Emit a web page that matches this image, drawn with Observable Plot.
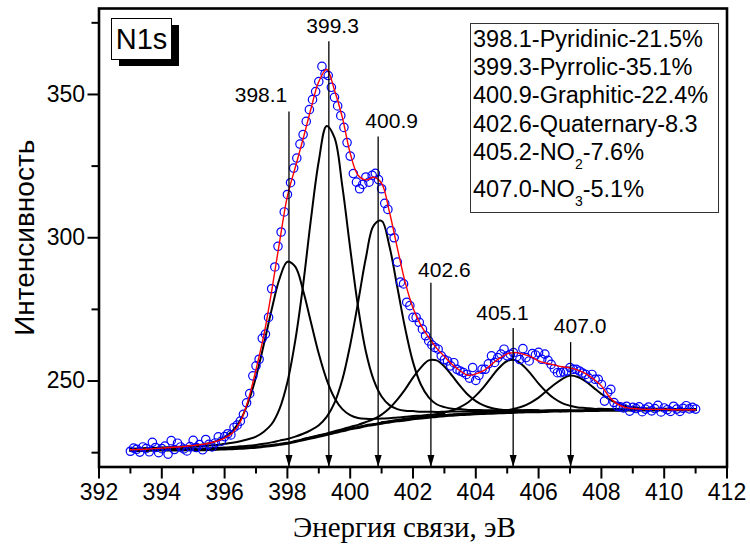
<!DOCTYPE html>
<html><head><meta charset="utf-8">
<script src="https://cdn.jsdelivr.net/npm/d3@7"></script>
<script src="https://cdn.jsdelivr.net/npm/@observablehq/plot@0.6"></script>
<style>
html,body{margin:0;padding:0;background:#fff;}
#chart{width:750px;height:549px;}
</style></head><body><div id="chart"></div>
<script>
// Common energy grid for fitted curves (eV)
const gridEnergy = [
  393, 393.25, 393.5, 393.75, 394, 394.25, 394.5, 394.75,
  395, 395.25, 395.5, 395.75, 396, 396.25, 396.5, 396.75,
  397, 397.25, 397.5, 397.75, 398, 398.25, 398.5, 398.75,
  399, 399.25, 399.5, 399.75, 400, 400.25, 400.5, 400.75,
  401, 401.25, 401.5, 401.75, 402, 402.25, 402.5, 402.75,
  403, 403.25, 403.5, 403.75, 404, 404.25, 404.5, 404.75,
  405, 405.25, 405.5, 405.75, 406, 406.25, 406.5, 406.75,
  407, 407.25, 407.5, 407.75, 408, 408.25, 408.5, 408.75,
  409, 409.25, 409.5, 409.75, 410, 410.25, 410.5, 410.75, 411
];
const background = [
  225.8, 225.8, 225.8, 225.9, 225.9, 225.9, 225.9, 226.0,
  226.0, 226.0, 226.1, 226.2, 226.3, 226.4, 226.5, 226.7,
  226.9, 227.2, 227.5, 227.9, 228.3, 228.9, 229.5, 230.1,
  230.7, 231.3, 232.0, 232.6, 233.3, 233.8, 234.4, 234.8,
  235.3, 235.7, 236.1, 236.4, 236.8, 237.1, 237.4, 237.6,
  237.9, 238.1, 238.3, 238.4, 238.6, 238.7, 238.8, 238.9,
  239.0, 239.1, 239.2, 239.3, 239.3, 239.4, 239.5, 239.5,
  239.6, 239.6, 239.7, 239.7, 239.8, 239.8, 239.8, 239.8,
  239.9, 239.9, 239.9, 239.9, 240.0, 240.0, 240.0, 240.0, 240.0
];
const peakPyridinic = [
  226.4, 226.4, 226.5, 226.6, 226.8, 226.9, 227.0, 227.2,
  227.5, 227.8, 228.3, 229.1, 230.4, 232.6, 236.3, 242.5,
  251.4, 262.8, 275.0, 285.7, 291.6, 289.9, 281.6, 270.5,
  259.5, 250.5, 244.1, 240.2, 238.1, 237.1, 236.8, 236.8,
  236.9, 237.0, 237.3, 237.5, 237.8, 237.9, 238.2, 238.3,
  238.5, null, null, null, null, null, null, null,
  null, null, null, null, null, null, null, null,
  null, null, null, null, null, null, null, null,
  null, null, null, null, null, null, null, null, null
];
const peakPyrrolic = [
  226.3, 226.4, 226.5, 226.5, 226.6, 226.7, 226.8, 226.9,
  227.1, 227.2, 227.5, 227.7, 228.1, 228.5, 229.0, 229.7,
  230.6, 232.3, 235.0, 240.3, 249.6, 264.1, 283.5, 306.5,
  326.8, 339.0, 334.9, 317.9, 296.3, 275.9, 260.2, 250.3,
  244.6, 241.6, 240.2, 239.6, 239.5, 239.3, 239.3, 239.2,
  239.3, 239.4, 239.4, 239.4, 239.5, 239.5, 239.5, 239.6,
  239.6, null, null, null, null, null, null, null,
  null, null, null, null, null, null, null, null,
  null, null, null, null, null, null, null, null, null
];
const peakGraphitic = [
  null, null, null, null, 226.2, 226.2, 226.2, 226.3,
  226.4, 226.4, 226.5, 226.7, 226.8, 227.0, 227.2, 227.4,
  227.7, 228.1, 228.6, 229.2, 229.8, 230.6, 231.6, 232.9,
  234.6, 237.5, 242.4, 250.5, 262.6, 277.4, 293.0, 304.3,
  305.9, 297.0, 282.8, 268.4, 256.6, 248.8, 244.3, 241.9,
  240.9, 240.3, 240.2, 239.9, 239.9, 239.8, 239.8, 239.8,
  239.8, 239.8, 239.8, 239.9, 239.8, null, null, null,
  null, null, null, null, null, null, null, null,
  null, null, null, null, null, null, null, null, null
];
const peakQuaternary = [
  null, null, null, null, null, null, null, null,
  null, null, null, null, null, null, null, null,
  null, null, null, null, null, null, 229.8, 230.4,
  231.1, 231.7, 232.5, 233.2, 234.0, 234.7, 235.7, 236.7,
  238.3, 240.5, 243.5, 247.1, 251.2, 254.7, 257.2, 257.2,
  255.1, 251.8, 248.3, 245.2, 243.0, 241.5, 240.6, 240.1,
  239.8, 239.8, 239.7, 239.8, 239.7, 239.8, 239.8, 239.8,
  239.8, null, null, null, null, null, null, null,
  null, null, null, null, null, null, null, null, null
];
const peakNO2 = [
  null, null, null, null, null, null, null, null,
  null, null, null, null, null, null, null, null,
  null, null, null, null, null, null, null, null,
  null, null, null, null, null, null, null, null,
  235.6, 236.0, 236.4, 236.8, 237.2, 237.6, 238.0, 238.4,
  239.0, 239.7, 240.9, 242.5, 244.9, 247.9, 251.4, 254.7,
  257.0, 257.3, 255.4, 252.5, 249.1, 246.2, 243.9, 242.3,
  241.4, 240.8, 240.6, 240.3, 240.3, 240.2, 240.2, 240.1,
  240.2, 240.1, 240.1, 240.1, 240.2, 240.2, 240.2, 240.1, 240.1
];
const peakNO3 = [
  null, null, null, null, null, null, null, null,
  null, null, null, null, null, null, null, null,
  null, null, null, null, null, null, null, null,
  null, null, null, null, null, null, null, null,
  null, null, null, null, null, null, null, null,
  238.1, 238.3, 238.5, 238.6, 238.9, 239.0, 239.3, 239.5,
  239.8, 240.4, 241.2, 242.5, 244.2, 246.5, 248.8, 250.7,
  251.9, 251.4, 249.9, 247.7, 245.5, 243.6, 242.3, 241.3,
  240.9, 240.6, 240.4, 240.3, 240.3, 240.3, 240.2, 240.2, 240.2
];
const envelope = [
  226.0, 226.1, 226.2, 226.4, 226.6, 226.8, 227.0, 227.2,
  227.5, 227.8, 228.3, 229.0, 230.1, 231.9, 235.8, 243.3,
  254.0, 266.0, 281.5, 298.5, 314.5, 324.5, 334.5, 345.0,
  354.5, 358.8, 351.5, 342.0, 329.5, 321.8, 320.2, 321.1,
  319.0, 309.0, 296.5, 284.5, 275.5, 269.5, 265.2, 261.5,
  258.6, 255.8, 253.6, 252.0, 252.5, 253.6, 255.8, 257.9,
  259.5, 259.9, 259.4, 258.5, 257.0, 256.2, 255.6, 255.0,
  254.6, 253.8, 252.6, 250.7, 248.3, 244.5, 242.0, 240.8,
  240.4, 240.2, 240.1, 240.1, 240.1, 240.0, 240.0, 240.0, 240.0
];

// Measured points (eV, intensity)
const pointEnergy = [
  393.0, 393.1, 393.2, 393.3, 393.4, 393.5, 393.6, 393.7, 393.8, 393.9,
  394.0, 394.1, 394.2, 394.3, 394.4, 394.5, 394.6, 394.7, 394.8, 394.9,
  395.0, 395.1, 395.2, 395.3, 395.4, 395.5, 395.6, 395.7, 395.8, 395.9,
  396.0, 396.1, 396.2, 396.3, 396.4, 396.5, 396.6, 396.7, 396.8, 396.9,
  397.0, 397.1, 397.2, 397.3, 397.4, 397.5, 397.6, 397.7, 397.8, 397.9,
  398.0, 398.1, 398.2, 398.3, 398.4, 398.5, 398.6, 398.7, 398.8, 398.9,
  399.0, 399.1, 399.2, 399.3, 399.4, 399.5, 399.6, 399.7, 399.8, 399.9,
  400.0, 400.1, 400.2, 400.3, 400.4, 400.5, 400.6, 400.7, 400.8, 400.9,
  401.0, 401.1, 401.2, 401.3, 401.4, 401.5, 401.6, 401.7, 401.8, 401.9,
  402.0, 402.1, 402.2, 402.3, 402.4, 402.5, 402.6, 402.7, 402.8, 402.9,
  403.0, 403.1, 403.2, 403.3, 403.4, 403.5, 403.6, 403.7, 403.8, 403.9,
  404.0, 404.1, 404.2, 404.3, 404.4, 404.5, 404.6, 404.7, 404.8, 404.9,
  405.0, 405.1, 405.2, 405.3, 405.4, 405.5, 405.6, 405.7, 405.8, 405.9,
  406.0, 406.1, 406.2, 406.3, 406.4, 406.5, 406.6, 406.7, 406.8, 406.9,
  407.0, 407.1, 407.2, 407.3, 407.4, 407.5, 407.6, 407.7, 407.8, 407.9,
  408.0, 408.1, 408.2, 408.3, 408.4, 408.5, 408.6, 408.7, 408.8, 408.9,
  409.0, 409.1, 409.2, 409.3, 409.4, 409.5, 409.6, 409.7, 409.8, 409.9,
  410.0, 410.1, 410.2, 410.3, 410.4, 410.5, 410.6, 410.7, 410.8, 410.9,
  411.0
];
const pointIntensity = [
  225.5, 226.6, 226.2, 225.2, 227.0, 226.4, 225.3, 228.6, 226.8, 225.0,
  226.4, 227.3, 224.5, 229.2, 226.1, 228.3, 227.0, 226.3, 225.6, 227.1,
  229.3, 226.8, 227.8, 226.0, 229.6, 227.9, 227.0, 228.4, 230.5, 229.0,
  230.6, 231.6, 231.2, 233.8, 234.6, 236.0, 238.4, 242.4, 245.6, 251.8,
  255.3, 257.6, 264.9, 266.4, 272.2, 282.2, 289.8, 297.0, 302.0, 309.0,
  315.1, 319.2, 324.3, 327.8, 332.7, 336.0, 340.6, 344.7, 348.2, 351.0,
  354.5, 359.8, 357.2, 356.6, 352.5, 349.0, 346.0, 342.6, 338.5, 333.2,
  328.5, 322.4, 319.4, 317.1, 318.6, 321.2, 319.4, 321.8, 322.5, 320.3,
  317.1, 312.0, 309.9, 302.4, 300.0, 291.5, 284.5, 283.9, 277.5, 276.3,
  272.2, 272.2, 270.5, 268.1, 265.8, 264.0, 262.6, 261.7, 261.1, 258.8,
  257.5, 257.0, 255.3, 256.4, 254.1, 253.5, 253.0, 252.3, 251.0, 254.7,
  250.2, 252.0, 254.1, 254.1, 256.0, 258.8, 256.5, 258.2, 259.4, 261.1,
  258.8, 259.3, 259.9, 258.5, 257.5, 261.3, 258.2, 257.0, 259.6, 259.1,
  260.0, 257.6, 259.4, 257.2, 255.8, 254.3, 252.9, 252.9, 253.2, 253.5,
  254.7, 254.1, 254.1, 253.5, 252.8, 252.3, 251.0, 252.3, 250.6, 250.6,
  248.8, 243.0, 246.0, 247.1, 242.5, 241.2, 241.0, 240.6, 241.2, 239.5,
  240.8, 240.4, 241.0, 239.3, 240.2, 240.9, 239.6, 240.4, 241.5, 239.2,
  240.6, 240.0, 239.4, 241.2, 240.2, 239.4, 240.5, 241.4, 240.3, 240.8,
  240.2
];

// Peak annotations
const peakLabels   = ["398.1", "399.3", "400.9", "402.6", "405.1", "407.0"];
const peakPosition = [398.05, 399.32, 400.89, 402.57, 405.19, 407.02];
const arrowTop     = [343.9, 368.4, 335.2, 284.1, 268.3, 263.4];
const labelEnergy  = [397.16, 399.44, 401.32, 403.0, 404.85, 407.32];
const labelLevel   = [349.7, 373.8, 340.6, 288.6, 273.5, 269.1];

// Legend box lines: [main, subscript, rest]
const legendMain = ["398.1-Pyridinic-21.5%", "399.3-Pyrrolic-35.1%", "400.9-Graphitic-22.4%", "402.6-Quaternary-8.3", "405.2-NO", "407.0-NO"];
const legendSub  = ["", "", "", "", "2", "3"];
const legendRest = ["", "", "", "", "-7.6%", "-5.1%"];

const xMajorTicks = [392, 394, 396, 398, 400, 402, 404, 406, 408, 410, 412];
const xMinorTicks = [393, 395, 397, 399, 401, 403, 405, 407, 409, 411];
const yMajorTicks = [250, 300, 350];
const yMinorTicks = [225, 275, 325, 375];

const xTitle = "Энергия связи, эВ";
const yTitle = "Интенсивность";
const panelTag = "N1s";

// ---- build tables ----
const curveRows = (values) => gridEnergy.map((e, i) => ({e, v: values[i]})).filter(d => d.v != null);
const components = [peakPyridinic, peakPyrrolic, peakGraphitic, peakQuaternary, peakNO2, peakNO3];
const points = pointEnergy.map((e, i) => ({e, v: pointIntensity[i]}));
const peaks = peakLabels.map((label, i) => ({label, pos: peakPosition[i], top: arrowTop[i], lx: labelEnergy[i], ly: labelLevel[i]}));

const arrowHead = {
  draw(ctx) { ctx.moveTo(0, 0); ctx.lineTo(-3.5, -12); ctx.lineTo(3.5, -12); ctx.closePath(); }
};
const yBase = 220;
const sans = "'Liberation Sans', Arial, sans-serif";
const serif = "'Liberation Serif', 'DejaVu Serif', 'Times New Roman', serif";

const marks = [];
components.forEach(c => marks.push(Plot.line(curveRows(c), {x: "e", y: "v", stroke: "black", strokeWidth: 2, curve: "catmull-rom"})));
marks.push(Plot.line(curveRows(background), {x: "e", y: "v", stroke: "black", strokeWidth: 3, curve: "catmull-rom"}));
marks.push(Plot.dot(points, {x: "e", y: "v", r: 4.2, stroke: "#0000ff", fill: "none", strokeWidth: 1.2}));
marks.push(Plot.line(curveRows(envelope), {x: "e", y: "v", stroke: "#ff0000", strokeWidth: 1.4, curve: "catmull-rom"}));
marks.push(Plot.ruleX(peaks, {x: "pos", y1: yBase, y2: "top", stroke: "black", strokeWidth: 1.3}));
marks.push(Plot.dot(peaks, {x: "pos", y: () => yBase, symbol: arrowHead, r: 3, fill: "black", stroke: "none"}));
marks.push(Plot.text(peaks, {x: "lx", y: "ly", text: "label", fontSize: 21, fill: "black", textAnchor: "middle", lineAnchor: "middle"}));
marks.push(Plot.axisX({ticks: xMinorTicks, tickSize: 7, tickFormat: () => "", label: null, strokeWidth: 2}));
marks.push(Plot.axisX({ticks: xMajorTicks, tickSize: 12, tickPadding: 5, fontSize: 23, label: null, strokeWidth: 2, tickFormat: d => String(d)}));
marks.push(Plot.axisY({ticks: yMinorTicks, tickSize: 7, tickFormat: () => "", label: null, strokeWidth: 2}));
marks.push(Plot.axisY({ticks: yMajorTicks, tickSize: 11, tickPadding: 3, fontSize: 23, label: null, strokeWidth: 2, tickFormat: d => String(d)}));
marks.push(Plot.frame({stroke: "black", strokeWidth: 2.6}));
marks.push(Plot.text([yTitle], {frameAnchor: "left", textAnchor: "middle", lineAnchor: "middle", dx: -74, rotate: -90, fontSize: 28, fill: "black"}));

const plot = Plot.plot({
  width: 750, height: 549,
  marginLeft: 98.5, marginRight: 23.5, marginTop: 8, marginBottom: 82.5,
  x: {domain: [392, 412]},
  y: {domain: [220, 380]},
  style: {fontFamily: sans, background: "white", color: "black", overflow: "visible"},
  marks
});
document.getElementById("chart").appendChild(plot);

const svg = d3.select(plot);
const xScale = plot.scale("x");
const frameCenter = (xScale.range[0] + xScale.range[1]) / 2;

// x-axis title in a serif face (Times-like as in the reference)
svg.append("text")
  .attr("x", frameCenter - 8).attr("y", 537)
  .attr("text-anchor", "middle")
  .style("font-family", serif).style("font-size", "29px").attr("fill", "black")
  .text(xTitle);

// ---- panel tag and legend box ----
const tag = svg.append("g").attr("text-anchor", "middle");
tag.append("rect").attr("x", 119).attr("y", 25).attr("width", 60).attr("height", 41).attr("fill", "black");
tag.append("rect").attr("x", 111.5).attr("y", 18.5).attr("width", 60).attr("height", 41).attr("fill", "white").attr("stroke", "black").attr("stroke-width", 1);
tag.append("text").attr("x", 141.5).attr("y", 49).attr("font-size", 29)
  .attr("font-family", sans).attr("fill", "black").text(panelTag);

const leg = svg.append("g").attr("text-anchor", "start");
leg.append("rect").attr("x", 470.5).attr("y", 23.5).attr("width", 248).attr("height", 189).attr("fill", "white").attr("stroke", "#333").attr("stroke-width", 1);
const baselines = [46.7, 74.5, 102.7, 131.5, 159.5, 196.7];
legendMain.forEach((m, i) => {
  const t = leg.append("text").attr("x", 473).attr("y", baselines[i]).attr("font-size", 23.5)
    .attr("text-anchor", "start").attr("font-family", sans).attr("fill", "black");
  t.append("tspan").text(m);
  if (legendSub[i]) {
    t.append("tspan").attr("font-size", 14).attr("dy", 9).text(legendSub[i]);
    t.append("tspan").attr("dy", -9).text(legendRest[i]);
  }
});
</script>
</body></html>
